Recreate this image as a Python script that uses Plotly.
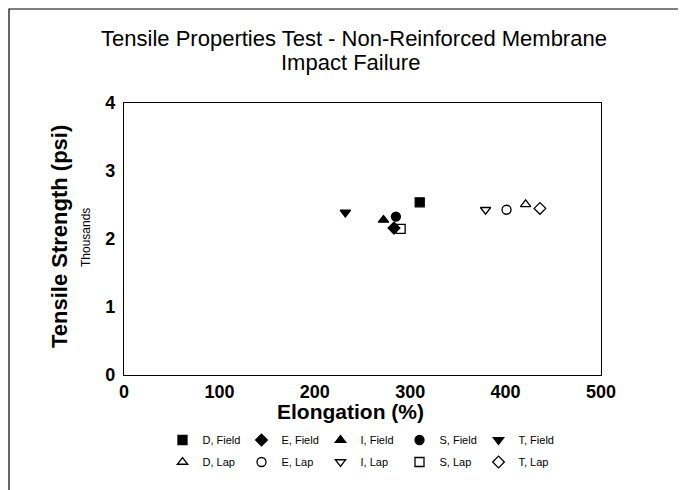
import plotly.graph_objects as go

# Data (tensile strength in thousands of psi)
series_names = ["D, Field", "E, Field", "I, Field", "S, Field", "T, Field",
                "D, Lap", "E, Lap", "I, Lap", "S, Lap", "T, Lap"]
elongation = [310, 283, 272, 285, 232, 421, 401, 379, 290, 436]
strength_k = [2.54, 2.16, 2.28, 2.33, 2.39, 2.51, 2.43, 2.43, 2.15, 2.45]
symbols = ["square", "diamond", "triangle-up", "circle", "triangle-down",
           "triangle-up-open", "circle-open", "triangle-down-open", "square-open", "diamond-open"]
x_ticks = [0, 100, 200, 300, 400, 500]
y_ticks = [0, 1, 2, 3, 4]

FONT = "Liberation Sans, Arial, sans-serif"
# the page places the figure 8px in from the window's top-left corner
OX, OY = 8, 8
W, H = 686 - OX, 490 - OY
# plot area in window pixels: x 124..601, y 103..375
L, R, T, B = 124 - OX, W - (601 - OX), 103 - OY, H - (375 - OY)
PW = W - L - R
PH = H - T - B


def px_x(px):  # window pixel -> paper
    return (px - OX - L) / PW


def px_y(py):
    return (375 - py) / PH


fig = go.Figure()
for name, xv, yv, sym in zip(series_names, elongation, strength_k, symbols):
    fig.add_trace(go.Scatter(
        x=[xv], y=[yv], mode="markers", name=name,
        legend="legend" if "Field" in name else "legend2",
        marker=dict(symbol=sym, size=9, color="black",
                    line=dict(color="black", width=1.3)),
    ))

legend_common = dict(orientation="h", xanchor="center", yanchor="middle",
                     font=dict(family=FONT, size=11, color="black"),
                     entrywidth=34, entrywidthmode="pixels",
                     itemwidth=30, bgcolor="rgba(0,0,0,0)")

fig.update_layout(
    width=W, height=H,
    margin=dict(l=L, r=R, t=T, b=B, autoexpand=False),
    paper_bgcolor="white", plot_bgcolor="white",
    font=dict(family=FONT, color="black"),
    title=dict(text="Tensile Properties Test - Non-Reinforced Membrane",
               x=(354 - OX) / W, xanchor="center", xref="container",
               y=1 - (38 - OY) / H, yanchor="middle", yref="container",
               font=dict(family=FONT, size=22, color="black")),
    showlegend=True,
    legend=dict(x=px_x(360), y=px_y(440), **legend_common),
    legend2=dict(x=px_x(360), y=px_y(462), **legend_common),
)

fig.update_xaxes(range=[0, 500], tickvals=x_ticks, ticktext=[str(v) for v in x_ticks],
                 showgrid=False, zeroline=False, showline=True, linecolor="black",
                 linewidth=1.3, mirror=True, ticks="", automargin=False,
                 tickfont=dict(family=FONT, size=18, color="black", weight="bold"))
fig.update_yaxes(range=[0, 4], tickvals=y_ticks, ticktext=[str(v) for v in y_ticks],
                 showgrid=False, zeroline=False, showline=True, linecolor="black",
                 linewidth=1.3, mirror=True, ticks="", ticklabelstandoff=4, automargin=False,
                 tickfont=dict(family=FONT, size=18, color="black", weight="bold"))

# second title line
fig.add_annotation(text="Impact Failure", xref="paper", yref="paper",
                   x=px_x(350), y=px_y(62), xanchor="center", yanchor="middle",
                   showarrow=False, font=dict(family=FONT, size=22, color="black"))
# axis titles
fig.add_annotation(text="<b>Elongation (%)</b>", xref="paper", yref="paper",
                   x=px_x(350), y=px_y(411), xanchor="center", yanchor="middle",
                   showarrow=False, font=dict(family=FONT, size=21, color="black"))
fig.add_annotation(text="<b>Tensile Strength (psi)</b>", xref="paper", yref="paper",
                   x=px_x(59), y=px_y(237), xanchor="center", yanchor="middle",
                   textangle=-90, showarrow=False, font=dict(family=FONT, size=22, color="black"))
fig.add_annotation(text="Thousands", xref="paper", yref="paper", x=px_x(86), y=px_y(238),
                   xanchor="center", yanchor="middle", textangle=-90, showarrow=False,
                   font=dict(family=FONT, size=12, color="black"))

# page frame
fig.add_shape(type="rect", xref="paper", yref="paper",
              x0=px_x(9), x1=px_x(681), y0=px_y(520), y1=px_y(9),
              line=dict(color="black", width=1.2), fillcolor="rgba(0,0,0,0)", layer="below")

fig.write_html("out.html")
